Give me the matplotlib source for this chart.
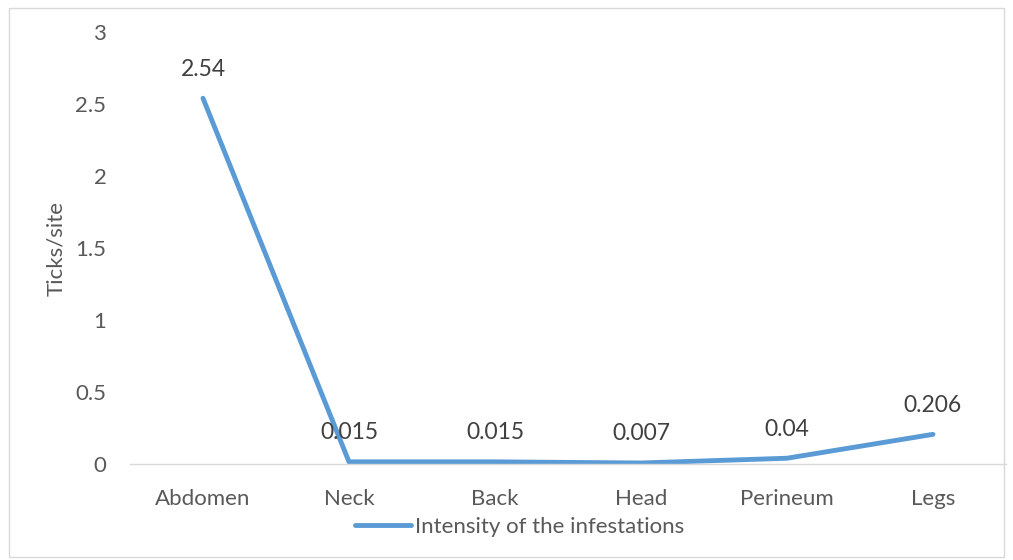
import matplotlib.pyplot as plt

plt.rcParams['font.family'] = ['Lato', 'DejaVu Sans']

sites = ['Abdomen', 'Neck', 'Back', 'Head', 'Perineum', 'Legs']
intensity = [2.54, 0.015, 0.015, 0.007, 0.04, 0.206]
labels = ['2.54', '0.015', '0.015', '0.007', '0.04', '0.206']

fig = plt.figure(figsize=(10.13, 5.6), dpi=100)
ax = fig.add_axes([130 / 1013, 1 - 464 / 560, 876 / 1013, 432 / 560])

x = range(len(sites))
line, = ax.plot(x, intensity, color='#5B9BD5', linewidth=3.5, solid_capstyle='round',
                label='Intensity of the infestations')
for xi, v, t in zip(x, intensity, labels):
    ax.annotate(t, (xi, v), xytext=(0, 21), textcoords='offset points',
                ha='center', va='center', fontsize=16.5, color='#404040')

ax.set_xlim(-0.5, len(sites) - 0.5)
ax.set_ylim(0, 3)
ax.set_yticks([0, 0.5, 1, 1.5, 2, 2.5, 3])
ax.set_yticklabels(['0', '0.5', '1', '1.5', '2', '2.5', '3'])
ax.set_xticks(list(x))
ax.set_xticklabels(sites)
ax.tick_params(axis='both', length=0, labelsize=16, labelcolor='#595959')
ax.tick_params(axis='y', pad=17)
ax.tick_params(axis='x', pad=18)
for s in ['top', 'right', 'left']:
    ax.spines[s].set_visible(False)
ax.spines['bottom'].set_color('#D9D9D9')
ax.spines['bottom'].set_linewidth(1)
ax.set_ylabel('Ticks/site', fontsize=16, color='#595959', labelpad=7)

fig.legend(handles=[line], loc='center', bbox_to_anchor=(520 / 1013, 1 - 527 / 560),
           frameon=False, fontsize=16, labelcolor='#595959', handlelength=2.5,
           handletextpad=0.2)

fig.patches.append(plt.Rectangle((9 / 1013, 0.005), 1 - 18 / 1013, 1 - 8 / 560 - 0.005,
                                 transform=fig.transFigure, fill=False,
                                 edgecolor='#D9D9D9', linewidth=1))

fig.savefig('out.png', dpi=100)
